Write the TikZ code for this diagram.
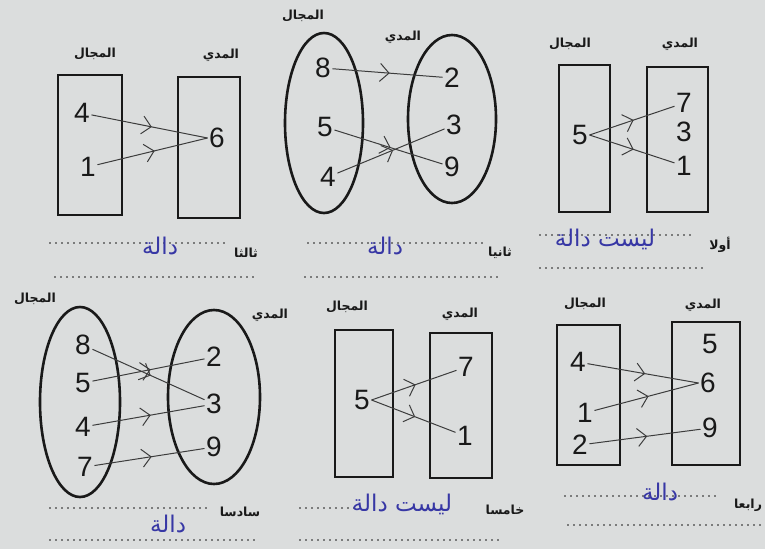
\documentclass[tikz,border=0pt]{standalone}
\usepackage{fontspec}
\usetikzlibrary{shapes.geometric,decorations.markings,arrows.meta}
\TeXXeTstate=1
\newfontfamily\arabicfont[Script=Arabic]{DejaVu Sans}
\newfontfamily\numfont{Liberation Sans}
\definecolor{paper}{RGB}{219,221,221}
\definecolor{ink}{RGB}{25,25,25}
\definecolor{wire}{RGB}{60,60,60}
\definecolor{pen}{RGB}{55,55,165}
\tikzset{
  box/.style={draw=ink, line width=2.6pt, rectangle, inner sep=0pt},
  oval/.style={draw=ink, line width=2.6pt, ellipse, inner sep=0pt},
  num/.style={font=\numfont\fontsize{28}{30}\selectfont, text=ink, inner sep=1.5pt},
  lab/.style={font=\arabicfont\bfseries\fontsize{12.5}{14}\selectfont, text=ink},
  hand/.style={font=\arabicfont\fontsize{23}{26}\selectfont, text=pen},
  dots/.style={draw=ink, line width=1.8pt, dash pattern=on 0pt off 6pt, line cap=round},
  conn/.style={draw=wire, line width=1pt, postaction={decorate},
    decoration={markings, mark=at position 0.52 with {\arrow{Straight Barb[length=9pt,width=18pt,line width=1pt]}}}}
}
\newcommand{\AR}[1]{\beginR #1\endR}
\begin{document}
\begin{tikzpicture}[x=1pt,y=-1pt]
\useasboundingbox (0,0) rectangle (765,549);
\fill[paper] (0,0) rectangle (765,549);

% ---------- Diagram: ثالثا (top-left)
\node[box, minimum width=64, minimum height=140] (A-dom) at (90,145) {};
\node[box, minimum width=62, minimum height=141] (A-rng) at (209,147.5) {};
\node[lab] (A-ldom) at (95,54) {\AR{المجال}};
\node[lab] (A-lrng) at (221,55) {\AR{المدي}};
\node[num] (A4) at (82,113) {4};
\node[num] (A1) at (88,167) {1};
\node[num] (A6) at (217,138) {6};
\draw[conn] (A4) -- (A6.west);
\draw[conn] (A1) -- (A6.west);
\draw[dots] (50,243) -- (225,243);
\draw[dots] (55,277) -- (255,277);
\node[hand] (A-ans) at (160,246) {\AR{دالة}};
\node[lab] (A-tag) at (246,253) {\AR{ثالثا}};

% ---------- Diagram: ثانيا (top-middle)
\node[oval, minimum width=78, minimum height=180] (B-dom) at (324,123) {};
\node[oval, minimum width=88, minimum height=168] (B-rng) at (452,119) {};
\node[lab] (B-ldom) at (303,16) {\AR{المجال}};
\node[lab] (B-lrng) at (403,37) {\AR{المدي}};
\node[num] (B8) at (323,68) {8};
\node[num] (B5) at (325,127) {5};
\node[num] (B4) at (328,177) {4};
\node[num] (B2) at (452,78) {2};
\node[num] (B3) at (454,125) {3};
\node[num] (B9) at (452,167) {9};
\draw[conn] (B8) -- (B2);
\draw[conn] (B5) -- (B9);
\draw[conn] (B4) -- (B3);
\draw[dots] (308,243) -- (483,243);
\draw[dots] (305,277) -- (500,277);
\node[hand] (B-ans) at (385,246) {\AR{دالة}};
\node[lab] (B-tag) at (500,253) {\AR{ثانيا}};

% ---------- Diagram: أولا (top-right)
\node[box, minimum width=51, minimum height=147] (C-dom) at (584.5,138.5) {};
\node[box, minimum width=61, minimum height=145] (C-rng) at (677.5,139.5) {};
\node[lab] (C-ldom) at (570,44) {\AR{المجال}};
\node[lab] (C-lrng) at (680,44) {\AR{المدي}};
\node[num] (C5) at (580,135) {5};
\node[num] (C7) at (684,103) {7};
\node[num] (C3) at (684,132) {3};
\node[num] (C1) at (684,166) {1};
\draw[conn] (C5.east) -- (C7);
\draw[conn] (C5.east) -- (C1);
\draw[dots] (540,235) -- (690,235);
\draw[dots] (540,268) -- (705,268);
\node[hand] (C-ans) at (605,239) {\AR{ليست دالة}};
\node[lab] (C-tag) at (720,245) {\AR{أولا}};

% ---------- Diagram: سادسا (bottom-left)
\node[oval, minimum width=80, minimum height=190] (D-dom) at (80,402) {};
\node[oval, minimum width=92, minimum height=174] (D-rng) at (214,397) {};
\node[lab] (D-ldom) at (35,299) {\AR{المجال}};
\node[lab] (D-lrng) at (270,315) {\AR{المدي}};
\node[num] (D8) at (83,345) {8};
\node[num] (D5) at (83,383) {5};
\node[num] (D4) at (83,427) {4};
\node[num] (D7) at (85,467) {7};
\node[num] (D2) at (214,357) {2};
\node[num] (D3) at (214,404) {3};
\node[num] (D9) at (214,447) {9};
\draw[conn] (D8) -- (D3);
\draw[conn] (D5) -- (D2);
\draw[conn] (D4) -- (D3);
\draw[conn] (D7) -- (D9);
\draw[dots] (50,508) -- (210,508);
\draw[dots] (50,540) -- (255,540);
\node[hand] (D-ans) at (168,524) {\AR{دالة}};
\node[lab] (D-tag) at (240,512) {\AR{سادسا}};

% ---------- Diagram: خامسا (bottom-middle)
\node[box, minimum width=58, minimum height=147] (E-dom) at (364,403.5) {};
\node[box, minimum width=62, minimum height=145] (E-rng) at (461,405.5) {};
\node[lab] (E-ldom) at (347,307) {\AR{المجال}};
\node[lab] (E-lrng) at (460,314) {\AR{المدي}};
\node[num] (E5) at (362,400) {5};
\node[num] (E7) at (466,367) {7};
\node[num] (E1) at (465,436) {1};
\draw[conn] (E5.east) -- (E7);
\draw[conn] (E5.east) -- (E1);
\draw[dots] (300,508) -- (358,508);
\draw[dots] (300,540) -- (498,540);
\node[hand] (E-ans) at (402,504) {\AR{ليست دالة}};
\node[lab] (E-tag) at (505,510) {\AR{خامسا}};

% ---------- Diagram: رابعا (bottom-right)
\node[box, minimum width=63, minimum height=140] (F-dom) at (588.5,395) {};
\node[box, minimum width=68, minimum height=143] (F-rng) at (706,393.5) {};
\node[lab] (F-ldom) at (585,304) {\AR{المجال}};
\node[lab] (F-lrng) at (703,305) {\AR{المدي}};
\node[num] (F4) at (578,362) {4};
\node[num] (F1) at (585,413) {1};
\node[num] (F2) at (580,445) {2};
\node[num] (F5) at (710,344) {5};
\node[num] (F6) at (708,383) {6};
\node[num] (F9) at (710,428) {9};
\draw[conn] (F4) -- (F6.west);
\draw[conn] (F1) -- (F6.west);
\draw[conn] (F2) -- (F9);
\draw[dots] (565,496) -- (715,496);
\draw[dots] (568,525) -- (760,525);
\node[hand] (F-ans) at (660,492) {\AR{دالة}};
\node[lab] (F-tag) at (748,505) {\AR{رابعا}};
\end{tikzpicture}
\end{document}
